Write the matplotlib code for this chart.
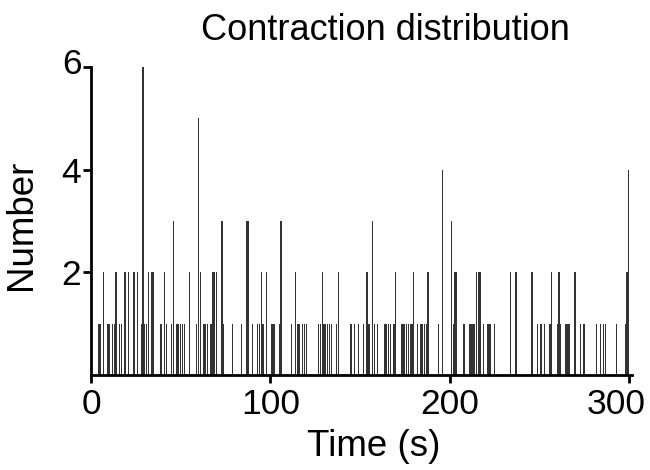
import matplotlib
matplotlib.use("Agg")
import matplotlib.pyplot as plt
from matplotlib.transforms import ScaledTranslation

plt.rcParams['font.family'] = ['Liberation Sans', 'DejaVu Sans']

# contraction times (s) and how many contractions fell in each 1 s bin
times = [4, 5, 7, 9, 10, 12, 13, 14, 16, 17, 19, 21, 24, 26,
         28, 29, 30, 31, 32, 34, 35, 39, 41, 42, 45, 46, 48, 49, 50, 51, 52,
         55, 59, 60, 61, 63, 64, 65, 67, 68, 69, 70, 73, 74, 79, 84, 87, 88,
         90, 93, 94, 95, 96, 98, 101, 102, 105, 106, 112, 114, 115, 116,
         118, 119, 120, 127, 128, 129, 130, 131, 132, 133, 134, 137, 138,
         145, 147, 149, 152, 154, 155, 157, 158, 160, 164, 165, 166, 167,
         169, 170, 173, 174, 175, 176, 177, 178, 179, 180, 182, 184, 185,
         186, 187, 188, 194, 196, 201, 202, 203, 204, 208, 211, 212, 213,
         214, 215, 216, 217, 219, 221, 222, 223, 225, 234, 237, 246, 249,
         251, 253, 256, 257, 260, 261, 262, 265, 266, 267, 270, 273, 275,
         282, 284, 286, 287, 293, 298, 299, 300]
counts = [1, 1, 2, 1, 1, 1, 1, 2, 1, 1, 2, 2, 2, 2,
          1, 6, 1, 1, 2, 2, 2, 1, 2, 1, 1, 3, 1, 1, 1, 1, 1,
          2, 1, 5, 2, 1, 1, 1, 1, 2, 2, 2, 3, 1, 1, 1, 3, 3,
          1, 1, 1, 2, 1, 2, 1, 1, 1, 3, 1, 2, 1, 1,
          1, 1, 1, 1, 1, 2, 1, 1, 1, 1, 1, 1, 2,
          1, 1, 1, 1, 2, 1, 3, 1, 1, 1, 1, 1, 1,
          1, 2, 1, 1, 1, 1, 1, 1, 1, 2, 1, 1, 1,
          1, 1, 2, 1, 4, 3, 1, 2, 2, 1, 1, 1, 1,
          1, 2, 2, 2, 1, 1, 1, 1, 1, 2, 2, 2, 1,
          1, 1, 1, 2, 1, 2, 1, 1, 1, 1, 2, 1, 1,
          1, 1, 1, 1, 1, 1, 2, 4]

x_ticks = [0, 100, 200, 300]
y_ticks = [2, 4, 6]

fig = plt.figure(figsize=(6.5, 4.7), dpi=100)
ax = fig.add_axes([0.14, 0.2021, 0.833, 0.655])

ax.bar(times, counts, width=0.7, color='#333333', linewidth=0, align='center')

ax.set_xlim(0, 302)
ax.set_ylim(0, 6)
ax.set_xticks(x_ticks)
ax.set_yticks(y_ticks)

for side in ['top', 'right']:
    ax.spines[side].set_visible(False)
for side in ['left', 'bottom']:
    ax.spines[side].set_linewidth(2)
ax.tick_params(axis='both', direction='out', length=6, width=2, labelsize=25.5)
ax.tick_params(axis='x', pad=3)
ax.tick_params(axis='y', pad=1)

# last x label sits pulled in from the edge, top y label sits a bit high
xl = ax.get_xticklabels()
xl[-1].set_transform(xl[-1].get_transform() + ScaledTranslation(-0.13, 0, fig.dpi_scale_trans))
yl = ax.get_yticklabels()
yl[-1].set_transform(yl[-1].get_transform() + ScaledTranslation(0, 0.06, fig.dpi_scale_trans))

fig.text(374 / 650, 1 - 447 / 470, 'Time (s)', fontsize=26.5, ha='center', va='center')
fig.text(22 / 650, 1 - 225 / 470, 'Number', fontsize=26.5, ha='center', va='center',
         rotation=90)
fig.text(385 / 650, 1 - 31 / 470, 'Contraction distribution', fontsize=26,
         ha='center', va='center')

fig.savefig('out.png', dpi=100)
